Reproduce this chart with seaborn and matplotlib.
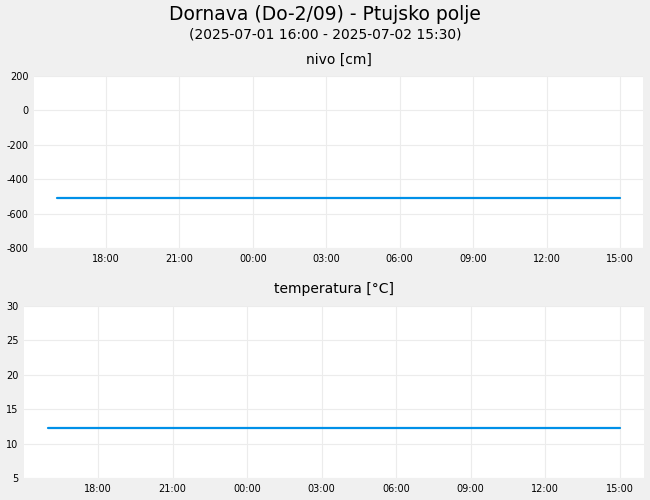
import pandas as pd
import seaborn as sns
import matplotlib
matplotlib.use("Agg")
import matplotlib.pyplot as plt
import matplotlib.dates as mdates

# hourly readings, 2025-07-01 16:00 .. 2025-07-02 15:00
times = [
    "2025-07-01 16:00", "2025-07-01 17:00", "2025-07-01 18:00", "2025-07-01 19:00",
    "2025-07-01 20:00", "2025-07-01 21:00", "2025-07-01 22:00", "2025-07-01 23:00",
    "2025-07-02 00:00", "2025-07-02 01:00", "2025-07-02 02:00", "2025-07-02 03:00",
    "2025-07-02 04:00", "2025-07-02 05:00", "2025-07-02 06:00", "2025-07-02 07:00",
    "2025-07-02 08:00", "2025-07-02 09:00", "2025-07-02 10:00", "2025-07-02 11:00",
    "2025-07-02 12:00", "2025-07-02 13:00", "2025-07-02 14:00", "2025-07-02 15:00",
]
nivo = [
    -510, -510, -510, -510, -510, -510, -510, -510,
    -510, -510, -510, -510, -510, -510, -510, -510,
    -510, -510, -510, -510, -510, -510, -510, -510,
]
temperatura = [
    12.3, 12.3, 12.3, 12.3, 12.3, 12.3, 12.3, 12.3,
    12.3, 12.3, 12.3, 12.3, 12.3, 12.3, 12.3, 12.3,
    12.3, 12.3, 12.3, 12.3, 12.3, 12.3, 12.3, 12.3,
]
nivo_ticks = [200, 0, -200, -400, -600, -800]
temp_ticks = [30, 25, 20, 15, 10, 5]

df = pd.DataFrame({
    "cas": pd.to_datetime(times),
    "nivo": nivo,
    "temperatura": temperatura,
})

sns.set_style("whitegrid")
plt.rcParams["font.family"] = ["DejaVu Sans"]
plt.rcParams["axes.unicode_minus"] = False
plt.rcParams["text.color"] = "black"

bg = "#f0f0f0"
line_color = "#0090e8"
grid_color = "#ececec"

W, H = 650, 500
fig = plt.figure(figsize=(6.5, 5), dpi=100, facecolor=bg)


def box(left, top, right, bottom):
    return [left / W, 1 - bottom / H, (right - left) / W, (bottom - top) / H]


ax1 = fig.add_axes(box(34, 76, 643, 248))
ax2 = fig.add_axes(box(24, 306, 644, 478))

panels = [
    (ax1, "nivo", "nivo [cm]", nivo_ticks, 56),
    (ax2, "temperatura", "temperatura [°C]", temp_ticks, 59),
]
for ax, col, title, ticks, pad_min in panels:
    sns.lineplot(data=df, x="cas", y=col, ax=ax, color=line_color, linewidth=1.6)
    ax.set_facecolor("white")
    ax.set_ylim(min(ticks), max(ticks))
    ax.set_yticks(ticks)
    ax.set_xlim(df["cas"].min() - pd.Timedelta(minutes=pad_min),
                df["cas"].max() + pd.Timedelta(minutes=pad_min))
    ax.xaxis.set_major_locator(mdates.HourLocator(byhour=range(0, 24, 3)))
    ax.xaxis.set_major_formatter(mdates.DateFormatter("%H:%M"))
    ax.grid(True, color=grid_color, linewidth=0.8)
    for s in ax.spines.values():
        s.set_visible(False)
    ax.tick_params(axis="both", labelsize=7, length=0, pad=4, colors="black")
    ax.set_xlabel("")
    ax.set_ylabel("")
    ax.set_title(title, fontsize=10, pad=9, color="black")

fig.text(0.5, 1 - 14 / H, "Dornava (Do-2/09) - Ptujsko polje",
         ha="center", va="center", fontsize=13.5, color="black")
fig.text(0.5, 1 - 34 / H, "(2025-07-01 16:00 - 2025-07-02 15:30)",
         ha="center", va="center", fontsize=10, color="black")

fig.savefig("out.png", dpi=100, facecolor=bg)
